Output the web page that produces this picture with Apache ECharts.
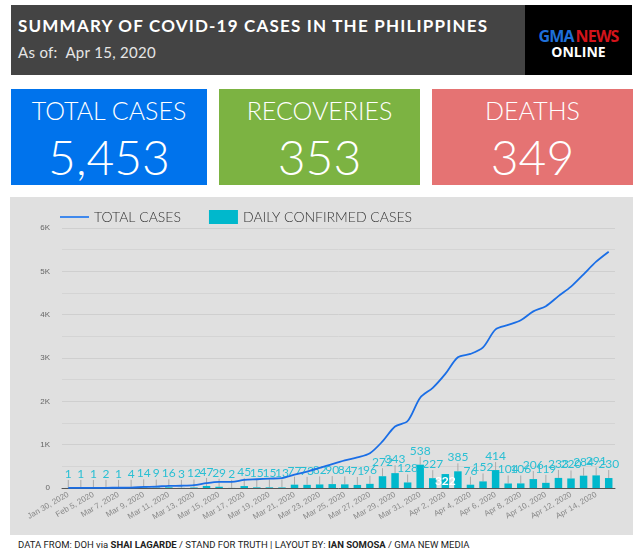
<!DOCTYPE html>
<html>
<head>
<meta charset="utf-8">
<script src="https://cdn.jsdelivr.net/npm/echarts@6/dist/echarts.min.js"></script>
<style>
  html, body { margin:0; padding:0; background:#fff; width:643px; height:557px; overflow:hidden; font-family: Lato, "Open Sans", sans-serif; }
  .hdr { position:absolute; left:11px; top:5px; width:514px; height:70px; background:#444; }
  .title { position:absolute; left:7px; top:10px; color:#fff; font-weight:bold; font-size:17px; letter-spacing:1.2px; }
  .asof { position:absolute; left:7px; top:38px; color:#e6e6e6; font-size:15px; letter-spacing:0.3px; }
  .logo { position:absolute; left:525px; top:5px; width:107px; height:70px; background:#000; text-align:center; font-family:"Open Sans", sans-serif; font-weight:bold; }
  .box { position:absolute; top:89px; height:96px; color:#fff; text-align:center; font-family:Lato, sans-serif; font-weight:300; }
  .box .lab { position:absolute; left:0; right:0; top:6px; font-size:25px; }
  .box .num { position:absolute; left:0; right:0; top:39px; font-size:48px; }
  #chart { position:absolute; left:10px; top:197px; width:623px; height:338px; }
  .foot { position:absolute; left:18px; top:539px; font-size:9.5px; color:#222; font-family:Roboto, sans-serif; }
</style>
</head>
<body>
<div class="hdr">
  <div class="title">SUMMARY OF COVID-19 CASES IN THE PHILIPPINES</div>
  <div class="asof">As of:&nbsp; Apr 15, 2020</div>
</div>
<div class="logo">
  <div style="position:absolute;left:0;right:0;top:23px;font-size:16px;line-height:17px;letter-spacing:-0.8px;"><span style="color:#1e6fd9">GMA</span><span style="color:#d3141b">&thinsp;NEWS</span></div>
  <div style="position:absolute;left:0;right:0;top:39px;font-size:14px;line-height:15px;color:#fff;">ONLINE</div>
</div>
<div class="box" style="left:11px;width:196px;background:#0073ec;"><div class="lab">TOTAL CASES</div><div class="num">5,453</div></div>
<div class="box" style="left:219px;width:201px;background:#7cb342;"><div class="lab">RECOVERIES</div><div class="num">353</div></div>
<div class="box" style="left:432px;width:201px;background:#e57373;"><div class="lab">DEATHS</div><div class="num">349</div></div>
<div id="chart"></div>
<div class="foot">DATA FROM: DOH via <b>SHAI LAGARDE</b> / STAND FOR TRUTH | LAYOUT BY: <b>IAN SOMOSA</b> / GMA NEW MEDIA</div>
<script>
const dates = ["Jan 30, 2020","Feb 2, 2020","Feb 5, 2020","Mar 6, 2020","Mar 7, 2020","Mar 8, 2020","Mar 9, 2020","Mar 10, 2020","Mar 11, 2020","Mar 12, 2020","Mar 13, 2020","Mar 14, 2020","Mar 15, 2020","Mar 16, 2020","Mar 17, 2020","Mar 18, 2020","Mar 19, 2020","Mar 20, 2020","Mar 21, 2020","Mar 22, 2020","Mar 23, 2020","Mar 24, 2020","Mar 25, 2020","Mar 26, 2020","Mar 27, 2020","Mar 28, 2020","Mar 29, 2020","Mar 30, 2020","Mar 31, 2020","Apr 1, 2020","Apr 2, 2020","Apr 3, 2020","Apr 4, 2020","Apr 5, 2020","Apr 6, 2020","Apr 7, 2020","Apr 8, 2020","Apr 9, 2020","Apr 10, 2020","Apr 11, 2020","Apr 12, 2020","Apr 13, 2020","Apr 14, 2020","Apr 15, 2020"];
const dailyCases = [1,1,1,2,1,4,14,9,16,3,12,47,29,2,45,15,15,13,77,73,82,90,84,71,96,272,343,128,538,227,322,385,76,152,414,104,106,206,119,233,220,284,291,230];
const totalCases = [1,2,3,5,6,10,24,33,49,52,64,111,140,142,187,202,217,230,307,380,462,552,636,707,803,1075,1418,1546,2084,2311,2633,3018,3094,3246,3660,3764,3870,4076,4195,4428,4648,4932,5223,5453];
const yTicks = ["0","1K","2K","3K","4K","5K","6K"];
const insideLabelDate = "Apr 2, 2020";

const chart = echarts.init(document.getElementById('chart'));
const barData = dailyCases.map((v, i) => dates[i] === insideLabelDate
  ? { value: v, label: { position: 'insideBottom', distance: 1, color: '#fff', fontWeight: 'bold', fontSize: 12 } }
  : v);
chart.setOption({
  backgroundColor: '#e0e0e0',
  animation: false,
  legend: {
    left: 45, top: 8, itemWidth: 29, itemHeight: 14, itemGap: 28,
    textStyle: { color: '#333', fontSize: 14, fontFamily: 'Lato', fontWeight: 300 },
    data: [
      { name: 'TOTAL CASES', icon: 'path://M0,0 M30,14 M0,6 L30,6 L30,8 L0,8 Z', itemStyle: { color: '#3b86ee' } },
      { name: 'DAILY CONFIRMED CASES', icon: 'rect' }
    ]
  },
  grid: { left: 52, right: 18, top: 31, bottom: 47 },
  xAxis: {
    type: 'category', data: dates,
    axisLine: { lineStyle: { color: '#555', width: 1 } },
    axisTick: { show: false },
    axisLabel: { interval: 1, rotate: 30, fontSize: 8, color: '#888', margin: 6 }
  },
  yAxis: {
    type: 'value', min: 0, max: 6000, interval: 1000,
    axisLine: { show: false }, axisTick: { show: false },
    axisLabel: { fontSize: 8, color: '#666', margin: 12, formatter: (v) => yTicks[v / 1000] },
    splitLine: { lineStyle: { color: '#cfcfcf' } },
    minorTick: { show: false, splitNumber: 2 },
    minorSplitLine: { show: true, lineStyle: { color: '#d4d4d4' } }
  },
  series: [
    {
      name: 'DAILY CONFIRMED CASES', type: 'bar', data: barData, barWidth: 7.5,
      itemStyle: { color: '#00b8cc' },
      label: { show: true, position: 'top', distance: 0, color: '#29bfd3', fontSize: 12, fontFamily: 'Lato' },
      labelLayout: (p) => (p.dataIndex === dates.indexOf(insideLabelDate) ? {} : { dy: -8 }),
      labelLine: { show: true, lineStyle: { color: '#aaa', width: 1 } },
      z: 2
    },
    {
      name: 'TOTAL CASES', type: 'line', data: totalCases, smooth: 0.3,
      symbol: 'none', lineStyle: { color: '#1a6ee6', width: 1.8 }, itemStyle: { color: '#1a6ee6' },
      z: 3
    }
  ]
});
</script>
</body>
</html>
